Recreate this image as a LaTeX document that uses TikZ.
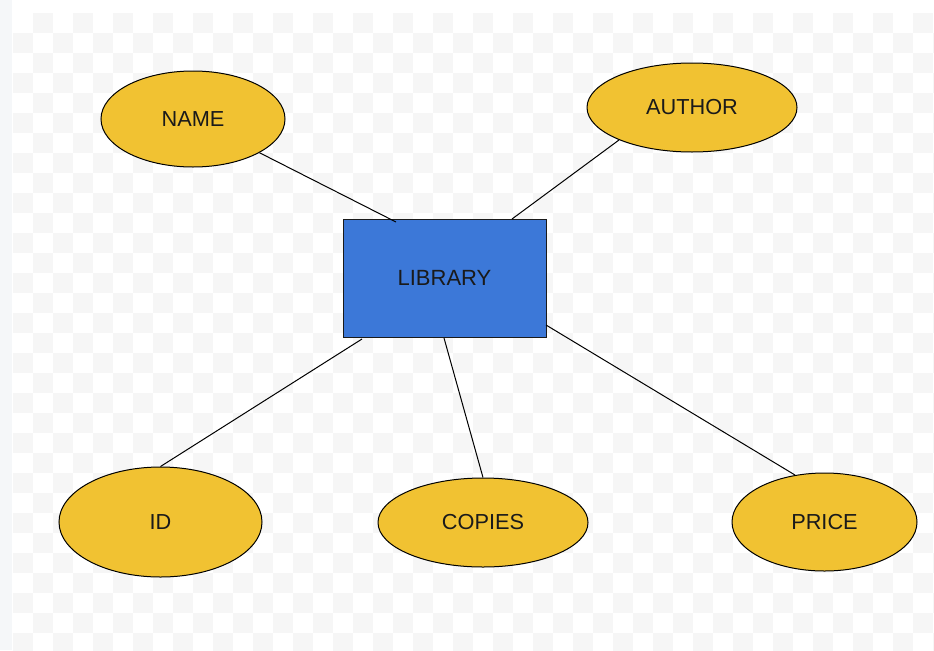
\documentclass[tikz,border=0pt]{standalone}
\usepackage{fontspec}
\setmainfont{Liberation Sans}
\usetikzlibrary{shapes.geometric}
\definecolor{attrfill}{HTML}{F1C232}
\definecolor{entfill}{HTML}{3C78D8}
\definecolor{checker}{HTML}{F6F6F6}
\definecolor{strip}{HTML}{F5F7F9}
\definecolor{ink}{HTML}{1A1A1A}
\tikzset{
  attr/.style={ellipse, draw=black, line width=0.75pt, fill=attrfill, inner sep=0pt,
    font=\fontsize{16.3pt}{18pt}\selectfont, text=ink},
  entity/.style={rectangle, draw=ink, line width=0.75pt, fill=entfill, inner sep=0pt,
    font=\fontsize{16.5pt}{18pt}\selectfont, text=ink},
  link/.style={draw=black, line width=0.75pt}
}
\begin{document}
\begin{tikzpicture}[x=0.75pt,y=-0.75pt]
\useasboundingbox (0,0) rectangle (934,650);
\fill[white] (0,0) rectangle (934,650);
\fill[strip] (0,0) rectangle (12,650);
\foreach \i in {0,...,46}{
  \foreach \j in {0,...,32}{
    \pgfmathparse{int(mod(\i+\j,2))}
    \ifnum\pgfmathresult=1
      \fill[checker] ({13+20*\i},{13+20*\j}) rectangle ++(20,20);
    \fi
  }
}
% nodes
\node[entity, minimum width=203*0.75pt, minimum height=118*0.75pt] (lib) at (444.5,278) {LIBRARY};
\node[attr, minimum width=184*0.75pt, minimum height=96*0.75pt] (name) at (193,119) {NAME};
\node[attr, minimum width=210*0.75pt, minimum height=89*0.75pt] (author) at (692,107.5) {AUTHOR};
\node[attr, minimum width=203*0.75pt, minimum height=110*0.75pt] (id) at (160.5,522) {ID};
\node[attr, minimum width=210*0.75pt, minimum height=89*0.75pt] (copies) at (483,522.5) {COPIES};
\node[attr, minimum width=185*0.75pt, minimum height=98*0.75pt] (price) at (824.5,522) {PRICE};
% connector end points
\coordinate (lname) at (396,222);
\coordinate (lauthor) at (512,219);
\coordinate (aauthor) at (619,140);
\coordinate (lid) at (362,339);
\coordinate (lcopies) at (444,338);
\coordinate (lprice) at (546,325);
\coordinate (pprice) at (795,475);
% connectors
\draw[link] (name) -- (lname);
\draw[link] (aauthor) -- (lauthor);
\draw[link] (lid) -- (id.north);
\draw[link] (lcopies) -- (copies.north);
\draw[link] (lprice) -- (pprice);
\end{tikzpicture}
\end{document}
